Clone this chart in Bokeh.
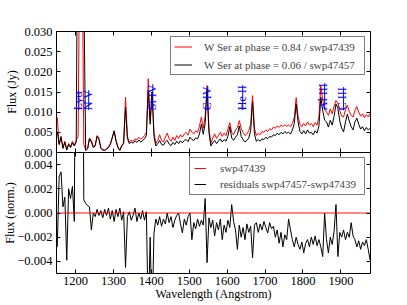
import numpy as np
from bokeh.plotting import figure
from bokeh.models import (Range1d, LinearAxis, FixedTicker, Legend, LegendItem,
                          ColumnDataSource)
from bokeh.layouts import column
from bokeh.embed import file_html
from bokeh.resources import INLINE
from bokeh.core.properties import value

# ---------------- data ----------------
wavelength = np.arange(1152, 1978, 5)  # Angstrom, 5 A sampling

# W Ser at phase 0.84 (swp47439), mJy
flux_phase084_mJy = [
    8.8, 2.0, 3.5, 1.2, 2.8, 0.8, 2.2, 1.5, 2.8, 1.8,
    3.0, 4.0, 60.0, 60.0, 2.0, 0.6, 1.0, 3.6, 3.0, 1.5,
    1.8, 4.2, 3.6, 1.2, 0.8, 0.6, 1.0, 1.4, 2.2, 3.8,
    5.4, 3.0, 1.4, 0.7, 1.8, 2.4, 13.7, 4.0, 2.6, 3.0,
    2.8, 3.4, 3.1, 3.8, 3.3, 3.6, 4.2, 5.0, 18.3, 8.0,
    15.0, 5.0, 2.2, 3.0, 4.4, 3.0, 2.6, 3.8, 4.8, 3.4,
    2.8, 3.8, 3.0, 4.2, 3.5, 4.4, 3.8, 4.6, 5.0, 4.3,
    5.8, 5.0, 4.6, 5.4, 5.0, 6.5, 8.8, 6.0, 9.0, 16.6,
    6.0, 2.2, 3.6, 4.6, 3.5, 4.2, 5.0, 4.0, 4.8, 4.2,
    5.8, 7.4, 5.0, 4.4, 5.6, 6.2, 7.9, 6.0, 5.0, 4.2,
    4.6, 5.4, 7.0, 14.1, 6.0, 4.2, 4.8, 4.4, 5.2, 5.0,
    5.6, 5.2, 5.9, 5.6, 6.3, 6.0, 6.6, 6.2, 6.8, 6.4,
    6.9, 6.5, 6.8, 6.4, 7.2, 8.6, 13.6, 9.0, 7.0, 6.4,
    7.2, 6.6, 7.6, 6.8, 7.2, 6.4, 7.4, 6.8, 8.8, 16.6,
    13.0, 11.0, 10.0, 9.2, 10.8, 9.6, 11.5, 12.9, 12.2, 10.4,
    9.0, 8.8, 10.6, 11.7, 10.2, 9.2, 8.8, 10.4, 11.4, 10.0,
    9.0, 9.6, 8.6, 9.4, 8.8, 9.7,
]

# W Ser at phase 0.06 (swp47457), mJy
flux_phase006_mJy = [
    5.2, 2.0, 4.0, 1.0, 2.5, 0.6, 2.0, 1.2, 2.4, 1.6,
    2.6, 80.0, 80.0, 80.0, 40.0, 0.5, 0.9, 3.4, 2.6, 1.2,
    1.6, 4.0, 3.2, 1.0, 0.6, 0.5, 0.8, 1.2, 2.0, 3.6,
    5.3, 2.8, 1.2, 0.5, 1.6, 2.2, 11.2, 3.5, 2.2, 2.6,
    2.3, 2.9, 2.5, 3.1, 2.6, 2.9, 3.4, 4.2, 15.4, 7.0,
    15.0, 4.0, 1.6, 2.2, 3.0, 2.0, 1.8, 2.6, 3.0, 2.1,
    1.7, 2.5, 2.0, 2.8, 2.2, 2.9, 2.4, 3.0, 3.2, 2.7,
    3.8, 3.2, 3.0, 3.6, 3.4, 4.6, 7.0, 4.5, 7.2, 15.8,
    5.0, 1.6, 2.4, 3.0, 2.2, 2.8, 3.4, 2.6, 3.2, 2.8,
    4.0, 6.4, 3.6, 3.0, 3.8, 4.4, 6.6, 4.0, 3.2, 2.6,
    3.0, 3.6, 5.4, 12.6, 4.6, 2.8, 3.2, 2.8, 3.4, 3.2,
    3.8, 3.4, 4.0, 3.8, 4.4, 4.2, 4.8, 4.4, 5.0, 4.6,
    5.2, 4.8, 5.0, 4.6, 5.6, 7.2, 12.0, 7.6, 5.2, 4.6,
    5.4, 4.6, 5.6, 4.8, 5.0, 4.4, 5.4, 4.8, 6.6, 13.7,
    10.4, 8.0, 7.6, 6.3, 8.0, 6.8, 9.0, 12.0, 11.0, 7.8,
    6.0, 5.1, 7.6, 9.5, 7.8, 6.4, 5.6, 7.6, 8.5, 7.0,
    5.8, 6.4, 5.4, 6.2, 5.6, 6.0,
]

# residuals swp47457 - swp47439, units of 1e-3 (norm.)
residual_e3 = [
    -2.8, 3.0, 3.4, 0.5, 1.3, -3.9, 2.0, 1.2, 2.2, -0.7,
    30.0, 30.0, 30.0, 30.0, 1.1, 0.8, 0.6, 0.5, -1.4, 0.0,
    -0.3, 0.3, -0.2, 0.2, -0.4, 0.3, -0.2, 0.4, -0.5, 0.2,
    -0.7, 0.3, -0.3, 0.4, -0.6, 0.1, -4.5, -0.3, 0.1, -0.6,
    -0.2, 0.4, -0.7, 0.0, -0.5, 0.2, -0.6, 0.1, -9.0, -2.0,
    -9.0, -1.7, -0.5, -1.0, -0.3, -1.1, -0.5, -0.9, 0.0, -0.8,
    -0.3, -1.2, -0.6, -0.2, 0.0, -0.9, -1.65, -0.5, -1.0, -0.3,
    0.0, -2.2, -0.8, -1.3, -0.5, -1.1, -0.6, -1.0, 1.2, -4.1,
    -0.4, -1.2, -0.6, -1.9, -0.8, -1.4, -0.5, -2.2, -1.0, -1.6,
    -0.6, -1.2, 0.7, -0.7, -1.4, -3.0, -1.0, -2.0, -1.2, -2.2,
    -0.9, -1.6, -1.1, -3.7, -1.0, -0.8, -1.6, -0.9, -1.4, -0.7,
    -1.2, -1.65, -0.8, -1.3, -1.1, -2.0, -1.4, -2.5, -1.6, -2.8,
    -1.8, -2.2, -0.5, -1.4, -2.2, -2.8, -2.0, -2.6, -3.0, -2.4,
    -3.3, -2.5, -2.2, -2.8, -2.0, -2.6, -1.9, -2.7, -2.2, -2.8,
    -3.6, 0.0, -2.2, -3.3, -2.0, -2.6, -1.5, 0.7, -3.6, -1.6,
    -2.0, -1.4, -2.2, -1.6, -2.0, -0.8, -1.9, -2.2, -2.8, -2.3,
    -3.0, -2.4, -2.7, -2.2, -3.0, -3.9,
]

# the swp47439 reference in the residual panel
reference_level = [0.0] * len(wavelength)

# emission line identifications
line_names = ["Lyα", "N V", "Si IV", "C IV", "He II", "Al III", "C III"]
line_label_wl = [1206, 1232, 1401, 1546, 1638, 1854, 1904]
line_label_flux = 0.0105

x_ticks = [1200, 1300, 1400, 1500, 1600, 1700, 1800, 1900]
top_y_ticks = [0.000, 0.005, 0.010, 0.015, 0.020, 0.025, 0.030]
top_y_labels = ["0.000", "0.005", "0.010", "0.015", "0.020", "0.025", "0.030"]
bot_y_ticks = [-0.004, -0.002, 0.000, 0.002, 0.004]
bot_y_labels = ["\u22120.004", "\u22120.002", "0.000", "0.002", "0.004"]

# ---------------- styling ----------------
FONT = "Liberation Serif"
X_RANGE = (1150, 1978)
FRAME_W = 314
LEFT = 52
TOP_FRAME_H = 121
BOT_FRAME_H = 121
OVERLAP = 8
UNDERLINE_PX = [19, 20, 26, 24, 25, 27, 23]   # length of label underlines
UNDERLINE_GAP_A = 3


def base_fig(yr, frame_h, top, bottom):
    p = figure(x_range=Range1d(*X_RANGE), y_range=Range1d(*yr),
               frame_width=FRAME_W, frame_height=frame_h,
               min_border_left=LEFT, min_border_right=12,
               min_border_top=top, min_border_bottom=bottom,
               output_backend="svg", toolbar_location=None)
    p.xgrid.visible = False
    p.ygrid.visible = False
    p.outline_line_color = "black"
    p.outline_line_width = 1
    p.background_fill_color = "white"
    p.border_fill_color = "white"
    p.add_layout(LinearAxis(), "above")
    p.add_layout(LinearAxis(), "right")
    return p


def style_axis(ax, ticks, labels=None, show=False):
    ax.ticker = FixedTicker(ticks=ticks)
    ax.axis_line_color = None
    ax.major_tick_in = 4
    ax.major_tick_out = 0
    ax.major_tick_line_color = "black"
    ax.minor_tick_line_color = None
    if show:
        ax.major_label_text_font = FONT
        ax.major_label_text_font_size = "12.5px"
        ax.major_label_text_color = "black"
        if labels is not None:
            ax.major_label_overrides = {t: l for t, l in zip(ticks, labels)}
    else:
        ax.major_label_overrides = {t: "" for t in ticks}
        ax.major_label_text_font_size = "0px"
        ax.major_label_standoff = 0


def axis_title(ax, text, standoff):
    ax.axis_label = text
    ax.axis_label_text_font = FONT
    ax.axis_label_text_font_size = "12px"
    ax.axis_label_text_font_style = "normal"
    ax.axis_label_text_color = "black"
    ax.axis_label_standoff = standoff


# ---------------- top panel ----------------
p1 = base_fig((0.0, 0.030), TOP_FRAME_H, 31, OVERLAP)
style_axis(p1.left[0], top_y_ticks, top_y_labels, show=True)
p1.left[0].major_label_standoff = 4
axis_title(p1.left[0], "Flux (Jy)", 2)
style_axis(p1.right[0], top_y_ticks)
style_axis(p1.below[0], x_ticks)
style_axis(p1.above[0], x_ticks)

flux_red = np.array(flux_phase084_mJy) / 1000.0
flux_blk = np.array(flux_phase006_mJy) / 1000.0
r_red = p1.line(wavelength, flux_red, line_color="#ff0000", line_width=1)
r_blk = p1.line(wavelength, flux_blk, line_color="black", line_width=1)

units_per_px = 0.030 / TOP_FRAME_H
lab_src = ColumnDataSource(dict(
    x=line_label_wl, y=[line_label_flux] * len(line_names), text=line_names))
p1.text(x="x", y="y", text="text", source=lab_src, angle=np.pi / 2,
        text_align="left", text_baseline="alphabetic", text_color="#0000ff",
        text_font=value(FONT), text_font_size="12px")
ul_x = [w + UNDERLINE_GAP_A for w in line_label_wl]
p1.segment(x0=ul_x, y0=[line_label_flux] * len(ul_x), x1=ul_x,
           y1=[line_label_flux + n * units_per_px for n in UNDERLINE_PX],
           line_color="#0000ff", line_width=1)

leg1 = Legend(items=[
    LegendItem(label="W Ser at phase = 0.84 / swp47439", renderers=[r_red]),
    LegendItem(label="W Ser at phase = 0.06 / swp47457", renderers=[r_blk])],
    location="top_right", margin=5, padding=3, spacing=5,
    label_height=13, glyph_height=13, glyph_width=18, label_standoff=12,
    label_width=157, label_text_font=FONT, label_text_font_size="11px",
    border_line_color="black", border_line_width=1, background_fill_alpha=1)
p1.add_layout(leg1)

# ---------------- bottom panel ----------------
p2 = base_fig((-0.005, 0.005), BOT_FRAME_H, 0, 20)
p2.border_fill_alpha = 0
p2.styles = {"margin-top": f"-{OVERLAP}px"}
style_axis(p2.left[0], bot_y_ticks, bot_y_labels, show=True)
p2.left[0].major_label_standoff = 4
axis_title(p2.left[0], "Flux (norm.)", -3)
style_axis(p2.right[0], bot_y_ticks)
style_axis(p2.above[0], x_ticks)
style_axis(p2.below[0], x_ticks, show=True)
xb = p2.below[0]
xb.major_label_standoff = 3
axis_title(xb, "Wavelength (Angstrom)", -1)

resid = np.array(residual_e3) / 1000.0
r_res = p2.line(wavelength, resid, line_color="black", line_width=1)
r_ref = p2.line(wavelength, reference_level, line_color="#ff0000", line_width=1)

leg2 = Legend(items=[
    LegendItem(label="swp47439", renderers=[r_ref]),
    LegendItem(label="residuals swp47457-swp47439", renderers=[r_res])],
    location="top_right", margin=5, padding=4, spacing=4,
    label_height=12, glyph_height=12, glyph_width=12, label_standoff=14,
    label_width=140, label_text_font=FONT, label_text_font_size="11px",
    border_line_color="black", border_line_width=1, background_fill_alpha=1)
p2.add_layout(leg2)

layout = column(p1, p2, spacing=0)
open("out.html", "w").write(file_html(layout, INLINE))
